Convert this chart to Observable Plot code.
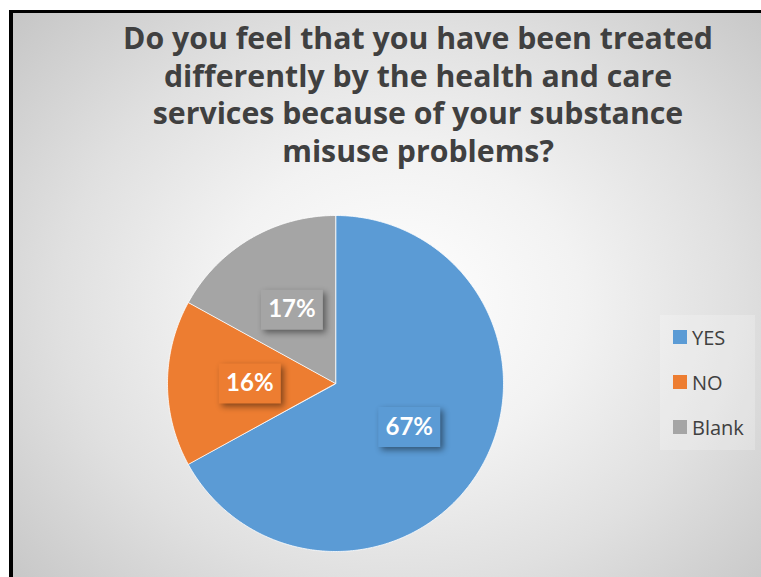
<!DOCTYPE html>
<html>
<head>
<meta charset="utf-8">
<script src="https://cdn.jsdelivr.net/npm/d3@7"></script>
<script src="https://cdn.jsdelivr.net/npm/@observablehq/plot@0.6"></script>
<style>
  html, body { margin: 0; padding: 0; background: #fff; }
  #stage { position: relative; width: 761px; height: 577px; overflow: hidden; }
  #frame {
    position: absolute; left: 9px; top: 10px; width: 800px; height: 620px;
    border-top: 3px solid #000; border-left: 4px solid #000;
    background: radial-gradient(ellipse 520px 430px at 385px 290px, #ffffff 0%, #f2f2f2 35%, #e0e0e0 65%, #c6c6c6 100%);
  }
  #title {
    position: absolute; left: 68px; width: 700px; top: 19px;
    font-family: "Open Sans", Lato, sans-serif; font-weight: 700; font-size: 27px;
    line-height: 37.5px; color: #404040; text-align: center; white-space: nowrap;
  }
  #plot { position: absolute; left: 0; top: 0; }
  #legend {
    position: absolute; left: 660px; top: 315px; width: 95px; height: 135px;
    background: rgba(255,255,255,0.22);
    font-family: "Open Sans", Lato, sans-serif; font-size: 20px; color: #404040;
  }
  .item { position: absolute; left: 13px; height: 24px; display: flex; align-items: center; }
  .sw { width: 14px; height: 14px; margin-right: 5px; }
</style>
</head>
<body>
<div id="stage">
  <div id="frame"></div>
  <div id="title"></div>
  <div id="plot"></div>
  <div id="legend"></div>
</div>
<script>
const titleLines = ["Do you feel that you have been treated", "differently by the health and care", "services because of your substance", "misuse problems?"];
const categories = ["YES", "NO", "Blank"];
const values = [67, 16, 17];
const labels = ["67%", "16%", "17%"];
const colors = ["#5B9BD5", "#ED7D31", "#A5A5A5"];

const titleEl = document.getElementById("title");
titleEl.innerHTML = titleLines.map(l => `<span>${l}</span>`).join("<br>");
// fit first title line to the reference's width (~590px)
const first = titleEl.querySelector("span");
const w = first.getBoundingClientRect().width;
if (w > 0) titleEl.style.fontSize = (27 * 590 / w).toFixed(2) + "px";

const data = categories.map((c, i) => ({category: c, value: values[i], label: labels[i]}));
const arcs = d3.pie().sort(null).value(d => d.value)(data);

const poly = [];
arcs.forEach(a => {
  const n = Math.max(2, Math.ceil((a.endAngle - a.startAngle) / 0.01));
  poly.push({category: a.data.category, x: 0, y: 0});
  for (let k = 0; k <= n; k++) {
    const t = a.startAngle + (a.endAngle - a.startAngle) * k / n;
    poly.push({category: a.data.category, x: Math.sin(t), y: Math.cos(t)});
  }
});
const labelPts = arcs.map(a => {
  const m = (a.startAngle + a.endAngle) / 2;
  return {category: a.data.category, label: a.data.label, x: 0.51 * Math.sin(m), y: 0.51 * Math.cos(m)};
});

const boxSymbol = {draw(ctx) { ctx.rect(-31, -20, 62, 40); }};

const cx = 335, cy = 383, R = 168;
const chart = Plot.plot({
  width: 761, height: 577, margin: 0,
  style: {background: "transparent", overflow: "visible"},
  x: {domain: [-1, 1], range: [cx - R, cx + R], axis: null},
  y: {domain: [-1, 1], range: [cy + R, cy - R], axis: null},
  color: {domain: categories, range: colors},
  marks: [
    Plot.line(poly, {x: "x", y: "y", z: "category", fill: "category", stroke: "#ffffff", strokeWidth: 0.8, curve: "linear-closed"}),
    Plot.dot(labelPts, {x: "x", y: "y", fill: "category", symbol: boxSymbol, r: 1, stroke: null}),
    Plot.text(labelPts, {x: "x", y: "y", text: "label", fill: "#ffffff", fontSize: 24, fontWeight: "bold",
      fontFamily: "Lato, 'Open Sans', sans-serif"})
  ]
});
chart.querySelectorAll("g[aria-label='dot'] path").forEach(p => p.style.filter = "drop-shadow(3px 3px 3px rgba(0,0,0,0.45))");
document.getElementById("plot").appendChild(chart);

const legend = document.getElementById("legend");
categories.forEach((c, i) => {
  const it = document.createElement("div");
  it.className = "item";
  it.style.top = (10 + i * 45) + "px";
  it.innerHTML = `<span class="sw" style="background:${colors[i]}"></span><span>${c}</span>`;
  legend.appendChild(it);
});
</script>
</body>
</html>
